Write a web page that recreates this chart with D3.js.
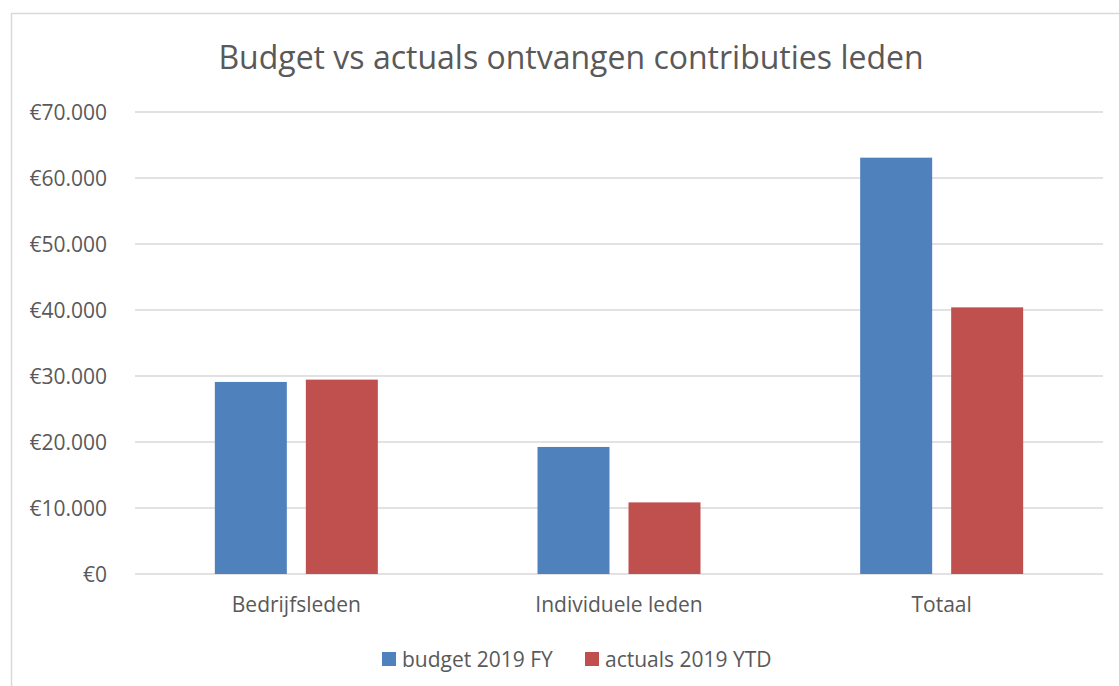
<!DOCTYPE html>
<html>
<head>
<meta charset="utf-8">
<script src="https://cdn.jsdelivr.net/npm/d3@7"></script>
<style>
  html, body { margin: 0; padding: 0; background: #fff; }
  svg { display: block; font-family: "Open Sans", sans-serif; }
</style>
</head>
<body>
<div id="chart"></div>
<script>
const CATEGORIES = ['Bedrijfsleden', 'Individuele leden', 'Totaal'];
const SERIES = ['budget 2019 FY', 'actuals 2019 YTD'];
const BUDGET = [29100, 19250, 63080];
const ACTUALS = [29450, 10850, 40400];
const Y_TICKS = [0, 10000, 20000, 30000, 40000, 50000, 60000, 70000];
const TITLE = 'Budget vs actuals ontvangen contributies leden';

const COLORS = ['#4F81BD', '#C0504D'];
const TEXT = '#595959';
const GRID = '#D9D9D9';

const width = 1119, height = 686;
const margin = { top: 112, right: 16, bottom: 112, left: 135 };
const W = width - margin.left - margin.right;
const H = height - margin.top - margin.bottom;

const svg = d3.select('#chart').append('svg')
  .attr('width', width).attr('height', height);

// chart frame (cropped on the right and bottom)
svg.append('rect')
  .attr('x', 11.5).attr('y', 13.5).attr('width', 1130).attr('height', 700)
  .attr('fill', '#fff').attr('stroke', GRID).attr('stroke-width', 1.5);

svg.append('text')
  .attr('x', 571).attr('y', 69)
  .attr('text-anchor', 'middle').attr('fill', TEXT)
  .attr('font-size', '32px')
  .text(TITLE);

const g = svg.append('g').attr('transform', `translate(${margin.left},${margin.top})`);

const x0 = d3.scaleBand().domain(CATEGORIES).range([0, W]);
const x1 = d3.scaleBand().domain(SERIES)
  .range([x0.bandwidth() / 2 - 81.5, x0.bandwidth() / 2 + 81.5]).paddingInner(0.209);
const y = d3.scaleLinear().domain([0, 70000]).range([H, 0]);

const fmt = v => '€' + d3.format(',')(v).replace(/,/g, '.');

// gridlines
g.append('g')
  .selectAll('line').data(Y_TICKS).join('line')
  .attr('x1', 0).attr('x2', W)
  .attr('y1', d => y(d)).attr('y2', d => y(d))
  .attr('stroke', GRID).attr('stroke-width', 1.3);

// y labels
g.append('g')
  .selectAll('text').data(Y_TICKS).join('text')
  .attr('x', -28).attr('y', d => y(d)).attr('dy', '0.36em')
  .attr('text-anchor', 'end').attr('fill', TEXT).attr('font-size', '21px')
  .text(fmt);

// bars
const rows = CATEGORIES.map((c, i) => ({ cat: c, vals: [BUDGET[i], ACTUALS[i]] }));
g.append('g')
  .selectAll('g').data(rows).join('g')
  .attr('transform', d => `translate(${x0(d.cat)},0)`)
  .selectAll('rect').data(d => d.vals.map((v, j) => ({ key: SERIES[j], v, j })))
  .join('rect')
  .attr('x', d => x1(d.key)).attr('width', x1.bandwidth())
  .attr('y', d => y(d.v)).attr('height', d => H - y(d.v))
  .attr('fill', d => COLORS[d.j]);

// category labels
g.append('g')
  .selectAll('text').data(CATEGORIES).join('text')
  .attr('x', d => x0(d) + x0.bandwidth() / 2).attr('y', H + 38)
  .attr('text-anchor', 'middle').attr('fill', TEXT).attr('font-size', '21px')
  .text(d => d);

// legend
const legend = svg.append('g').attr('transform', 'translate(382,652)');
const items = legend.selectAll('g').data(SERIES).join('g')
  .attr('transform', (d, i) => `translate(${i * 203},0)`);
items.append('rect').attr('width', 14).attr('height', 14).attr('fill', (d, i) => COLORS[i]);
items.append('text').attr('x', 20).attr('y', 7).attr('dy', '0.36em')
  .attr('fill', TEXT).attr('font-size', '21px').text(d => d);
</script>
</body>
</html>
